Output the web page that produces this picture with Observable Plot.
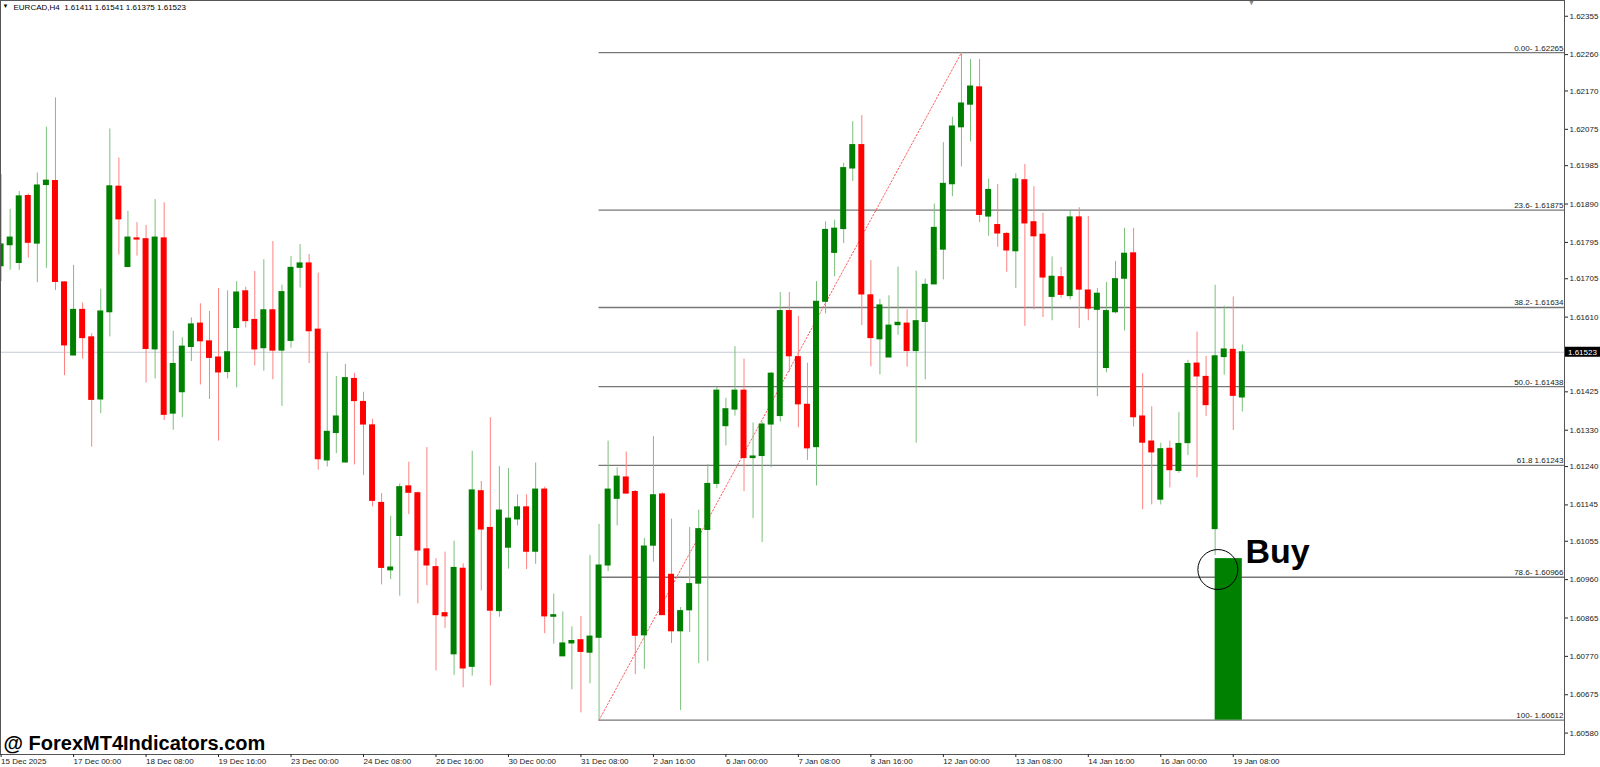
<!DOCTYPE html>
<html><head><meta charset="utf-8">
<script src="https://cdn.jsdelivr.net/npm/d3@7"></script>
<script src="https://cdn.jsdelivr.net/npm/@observablehq/plot@0.6"></script>
<style>html,body{margin:0;padding:0;background:#fff;} svg{display:block}</style>
</head><body><div id="chart"></div>
<script>
const symbol = "EURCAD,H4";
const open = [1.61736,1.61788,1.61744,1.61910,1.61792,1.61937,1.61947,1.61696,1.61515,1.61628,
1.61560,1.61406,1.61622,1.61933,1.61734,1.61805,1.61803,1.61530,1.61805,1.61371,
1.61424,1.61536,1.61594,1.61550,1.61510,1.61474,1.61583,1.61674,1.61603,1.61533,
1.61627,1.61527,1.61551,1.61732,1.61743,1.61579,1.61255,1.61323,1.61250,1.61457,
1.61400,1.61342,1.61150,1.60983,1.61068,1.61191,1.61174,1.61035,1.60991,1.60877,
1.60775,1.60987,1.60744,1.61179,1.61088,1.60882,1.61039,1.61109,1.61139,1.61029,
1.61183,1.60868,1.60770,1.60802,1.60810,1.60779,1.60816,1.60995,1.61160,1.61213,
1.61177,1.60822,1.61044,1.61171,1.60972,1.60832,1.60884,1.60950,1.61083,1.61197,
1.61340,1.61381,1.61428,1.61261,1.61266,1.61344,1.61365,1.61625,1.61511,1.61393,
1.61288,1.61648,1.61769,1.61828,1.61978,1.62036,1.61664,1.61555,1.61510,1.61590,
1.61594,1.61526,1.61598,1.61691,1.61777,1.61939,1.62080,1.62136,1.62179,1.61859,
1.61838,1.61816,1.61773,1.61949,1.61845,1.61814,1.61660,1.61709,1.61662,1.61857,
1.61676,1.61628,1.61484,1.61622,1.61705,1.61768,1.61364,1.61302,1.61158,1.61284,
1.61229,1.61298,1.61495,1.61462,1.61085,1.61511,1.61529,1.61411];
const high = [1.61963,1.61877,1.61921,1.61915,1.61967,1.62080,1.62153,1.61698,1.61738,1.61645,
1.61569,1.61679,1.62076,1.62004,1.61872,1.61844,1.61837,1.61901,1.61893,1.61575,
1.61559,1.61608,1.61643,1.61624,1.61681,1.61675,1.61698,1.61684,1.61723,1.61752,
1.61797,1.61689,1.61760,1.61790,1.61765,1.61719,1.61523,1.61463,1.61493,1.61471,
1.61424,1.61357,1.61173,1.61117,1.61197,1.61251,1.61177,1.61287,1.61012,1.61028,
1.61055,1.60999,1.61278,1.61203,1.61361,1.61240,1.61235,1.61170,1.61170,1.61249,
1.61189,1.60924,1.60880,1.60843,1.60869,1.61020,1.61097,1.61303,1.61237,1.61276,
1.61181,1.61062,1.61314,1.61175,1.61110,1.60891,1.61089,1.61132,1.61245,1.61436,
1.61409,1.61537,1.61506,1.61348,1.61350,1.61473,1.61671,1.61671,1.61612,1.61496,
1.61698,1.61846,1.61850,1.61991,1.62094,1.62109,1.61750,1.61654,1.61663,1.61734,
1.61628,1.61724,1.61704,1.61890,1.62042,1.62105,1.62265,1.62248,1.62248,1.61952,
1.61938,1.61820,1.61965,1.61988,1.61933,1.61867,1.61759,1.61733,1.61875,1.61881,
1.61859,1.61681,1.61696,1.61748,1.61830,1.61830,1.61470,1.61388,1.61298,1.61303,
1.61374,1.61503,1.61573,1.61513,1.61689,1.61637,1.61660,1.61541];
const low = [1.61698,1.61726,1.61726,1.61756,1.61695,1.61731,1.61676,1.61465,1.61514,1.61506,
1.61288,1.61371,1.61561,1.61764,1.61734,1.61761,1.61447,1.61457,1.61354,1.61330,
1.61361,1.61500,1.61442,1.61406,1.61303,1.61457,1.61435,1.61583,1.61489,1.61476,
1.61455,1.61389,1.61533,1.61682,1.61495,1.61231,1.61239,1.61272,1.61249,1.61244,
1.61218,1.61140,1.60947,1.60960,1.60919,1.61121,1.60900,1.60945,1.60734,1.60839,
1.60723,1.60692,1.60721,1.60932,1.60697,1.60867,1.60986,1.61093,1.60985,1.60998,
1.60826,1.60800,1.60770,1.60687,1.60630,1.60702,1.60612,1.60980,1.61093,1.61172,
1.60725,1.60738,1.61003,1.60872,1.60802,1.60636,1.60829,1.60752,1.60757,1.61185,
1.61291,1.61365,1.61178,1.61111,1.61052,1.61237,1.61350,1.61473,1.61336,1.61255,
1.61192,1.61618,1.61710,1.61792,1.61946,1.61589,1.61487,1.61467,1.61510,1.61565,
1.61486,1.61298,1.61455,1.61691,1.61702,1.61908,1.61982,1.62044,1.61844,1.61810,
1.61783,1.61721,1.61681,1.61587,1.61628,1.61609,1.61601,1.61657,1.61653,1.61582,
1.61601,1.61413,1.61472,1.61618,1.61576,1.61338,1.61133,1.61145,1.61145,1.61187,
1.61223,1.61267,1.61212,1.61364,1.61020,1.61466,1.61329,1.61375];
const close = [1.61790,1.61807,1.61909,1.61794,1.61936,1.61948,1.61697,1.61540,1.61628,1.61558,
1.61405,1.61624,1.61934,1.61852,1.61807,1.61802,1.61531,1.61807,1.61368,1.61494,
1.61537,1.61592,1.61550,1.61509,1.61473,1.61523,1.61671,1.61600,1.61530,1.61627,
1.61527,1.61672,1.61732,1.61743,1.61575,1.61258,1.61326,1.61364,1.61459,1.61402,
1.61344,1.61155,1.60989,1.60990,1.61189,1.61175,1.61032,1.60995,1.60872,1.60869,
1.60989,1.60740,1.61181,1.61084,1.60883,1.61131,1.61111,1.61139,1.61029,1.61183,
1.60869,1.60872,1.60802,1.60808,1.60781,1.60819,1.60995,1.61183,1.61215,1.61173,
1.60821,1.61042,1.61169,1.60872,1.60832,1.60882,1.60949,1.61085,1.61197,1.61428,
1.61382,1.61428,1.61261,1.61265,1.61344,1.61470,1.61625,1.61513,1.61394,1.61285,
1.61648,1.61826,1.61829,1.61979,1.62036,1.61666,1.61558,1.61639,1.61589,1.61596,
1.61526,1.61600,1.61690,1.61831,1.61940,1.62082,1.62139,1.62181,1.61863,1.61925,
1.61817,1.61775,1.61951,1.61842,1.61810,1.61708,1.61710,1.61665,1.61857,1.61678,
1.61631,1.61668,1.61625,1.61704,1.61767,1.61362,1.61299,1.61275,1.61283,1.61231,
1.61296,1.61494,1.61463,1.61392,1.61513,1.61530,1.61415,1.61523];

const xTickIdx = [0,8,16,24,32,40,48,56,64,72,80,88,96,104,112,120,128,136];
const xTickLabels = ["15 Dec 2025","17 Dec 00:00","18 Dec 08:00","19 Dec 16:00","23 Dec 00:00","24 Dec 08:00","26 Dec 16:00","30 Dec 00:00","31 Dec 08:00","2 Jan 16:00","6 Jan 00:00","7 Jan 08:00","8 Jan 16:00","12 Jan 00:00","13 Jan 08:00","14 Jan 16:00","16 Jan 00:00","19 Jan 08:00"];
const yTicks = [1.62355,1.62260,1.62170,1.62075,1.61985,1.61890,1.61795,1.61705,1.61610,1.61425,1.61330,1.61240,1.61145,1.61055,1.60960,1.60865,1.60770,1.60675,1.60580];

const fibPrice = [1.62265,1.61875,1.61634,1.61438,1.61243,1.60966,1.60612];
const fibLabel = ["0.00- 1.62265","23.6- 1.61875","38.2- 1.61634","50.0- 1.61438","61.8 1.61243","78.6- 1.60966","100- 1.60612"];
const fibStart = 66;   // bar of the swing low
const fibEnd = 106;    // bar of the swing high

const buyZone = [{from: 134, to: 137, top: 1.61012, bottom: 1.60612}];
const buyCircle = [{index: 134.3, price: 1.60985}];
const buyText = [{index: 137.35, price: 1.61002, label: "Buy"}];
const watermark = "@ ForexMT4Indicators.com";

const W = 1600, H = 767, mR = 36, mB = 13;
const xDomain = [-0.0662, 172.56];
const yDomain = [1.60527, 1.62394];
const candles = open.map((o, i) => ({i, o, h: high[i], l: low[i], c: close[i], up: close[i] >= o}));
const last = candles[candles.length - 1];
const fmt = d => d.toFixed(5);
const header = `${symbol}  ${fmt(last.o)} ${fmt(last.h)} ${fmt(last.l)} ${fmt(last.c)}`;
const FONT = "'Liberation Sans', Arial, sans-serif";

const chart = Plot.plot({
  width: W, height: H,
  marginLeft: 0, marginRight: mR, marginTop: 0, marginBottom: mB,
  style: {fontFamily: FONT, background: "#fff", overflow: "visible"},
  x: {type: "linear", domain: xDomain},
  y: {domain: yDomain},
  marks: [
    Plot.ruleY([last.c], {y: d => d, stroke: "#c4cad3", strokeWidth: 1}),
    Plot.ruleY(fibPrice, {y: d => d, x1: fibStart, x2: xDomain[1], stroke: "#777", strokeWidth: 1.4}),
    Plot.line([{i: fibStart, p: low[fibStart]}, {i: fibEnd, p: high[fibEnd]}],
      {x: "i", y: "p", stroke: "#ff5a5a", strokeWidth: 1, strokeDasharray: "1.5,2"}),
    Plot.ruleX(candles, {x: "i", y1: "l", y2: "h", stroke: d => d.up ? "#7cbf7c" : "#ff8080", strokeWidth: 1}),
    Plot.rect(candles, {x1: d => d.i - 0.33, x2: d => d.i + 0.33, y1: "o", y2: "c",
      fill: d => d.up ? "#008000" : "#ff0000", insetTop: -0.5, insetBottom: -0.5}),
    Plot.rect(buyZone, {x1: "from", x2: "to", y1: "bottom", y2: "top", fill: "#008000"}),
    Plot.dot(buyCircle, {x: "index", y: "price", r: 20, stroke: "#000", fill: "none", strokeWidth: 1}),
    Plot.text(buyText, {x: "index", y: "price", text: "label", textAnchor: "start", lineAnchor: "bottom",
      fontSize: 34, fontWeight: "bold", fill: "#000"}),
    Plot.text(fibPrice, {y: d => d, text: (d, i) => fibLabel[i], frameAnchor: "right", textAnchor: "end",
      lineAnchor: "bottom", dx: -1, dy: -2, fontSize: 8, fill: "#222"}),
    Plot.text(["▼"], {frameAnchor: "top-left", text: d => d, dx: 2, dy: 3, lineAnchor: "top", textAnchor: "start", fontSize: 6, fill: "#000"}),
    Plot.text([header], {frameAnchor: "top-left", text: d => d, dx: 13, dy: 7, lineAnchor: "middle", textAnchor: "start", fontSize: 8, fill: "#000"}),
    Plot.text(["▼"], {x: candles.length, frameAnchor: "top", text: d => d, dy: -2, lineAnchor: "top", fontSize: 9, fill: "#888"}),
    Plot.text([watermark], {frameAnchor: "bottom-left", text: d => d, dx: 3, dy: -5, lineAnchor: "bottom", textAnchor: "start",
      fontSize: 20, fontWeight: "bold", fill: "#000"}),
    Plot.frame({stroke: "#555"}),
    Plot.axisY({anchor: "right", ticks: yTicks, tickFormat: fmt, tickSize: 3, tickPadding: 2, fontSize: 8, label: null, color: "#222"}),
    Plot.axisX({anchor: "bottom", ticks: xTickIdx, tickFormat: d => xTickLabels[xTickIdx.indexOf(d)], tickSize: 3, tickPadding: 1,
      textAnchor: "start", fontSize: 8, label: null, color: "#222"})
  ]
});

document.getElementById("chart").appendChild(chart);

// current price marker on the price axis
const ys = chart.scale("y");
const py = ys.apply(last.c);
const ax = W - mR;
const g = d3.select(chart).append("g");
g.append("rect").attr("x", ax + 1).attr("y", py - 5).attr("width", mR - 1).attr("height", 10).attr("fill", "#000");
g.append("text").attr("x", ax + 4).attr("y", py + 3).attr("fill", "#fff").attr("font-size", 8)
  .attr("text-anchor", "start").attr("font-family", FONT).text(fmt(last.c));
</script>
</body></html>
